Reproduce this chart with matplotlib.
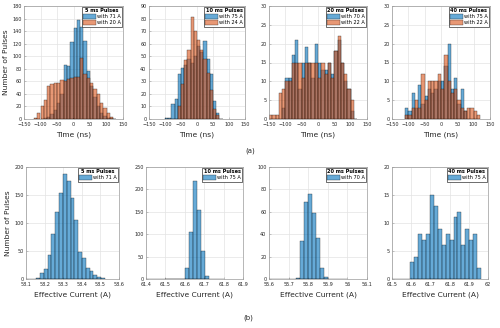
import numpy as np
import matplotlib
matplotlib.use("Agg")
import matplotlib.pyplot as plt

# ---------------- data ----------------
pulse_labels = ["5 ms Pulses", "10 ms Pulses", "20 ms Pulses", "40 ms Pulses"]

# top row: time histograms (10 ns bins), bins start at given edge
time_bin_width = 10
time_start_5 = -120
blue_5 = [0, 0, 0, 1, 3, 8, 15, 25, 40, 86, 84, 123, 145, 157, 147, 124, 76, 52, 35, 20, 10, 5, 2, 1, 0]
orange_5 = [2, 10, 20, 30, 53, 56, 58, 57, 62, 60, 63, 66, 67, 67, 97, 72, 65, 57, 48, 40, 25, 18, 10, 3, 0]
legend_top_5 = ["with 71 A", "with 20 A"]

time_start_10 = -100
blue_10 = [1, 1, 12, 16, 36, 41, 43, 48, 45, 50, 58, 53, 62, 48, 36, 14, 5, 0]
orange_10 = [0, 0, 0, 0, 10, 28, 47, 55, 81, 70, 63, 55, 48, 37, 23, 8, 3, 0]
legend_top_10 = ["with 75 A", "with 24 A"]

time_start_20 = -150
blue_20 = [0, 0, 0, 0, 3, 11, 11, 17, 21, 8, 15, 19, 15, 11, 20, 15, 13, 13, 15, 12, 18, 21, 15, 10, 8, 2, 0]
orange_20 = [1, 1, 1, 7, 8, 10, 10, 15, 15, 15, 11, 15, 15, 15, 15, 11, 15, 12, 15, 11, 18, 22, 15, 12, 8, 5, 0]
legend_top_20 = ["with 70 A", "with 22 A"]

time_start_40 = -110
blue_40 = [3, 2, 7, 3, 9, 4, 6, 8, 7, 8, 10, 10, 14, 20, 8, 11, 4, 8, 2, 0, 0, 0, 0]
orange_40 = [1, 1, 3, 5, 3, 12, 5, 10, 10, 10, 12, 8, 17, 10, 7, 8, 5, 3, 2, 3, 3, 2, 1]
legend_top_40 = ["with 75 A", "with 22 A"]

# bottom row: effective current histograms
cur_bin_width = 0.0205
cur_start_5 = 58.155
cur_5 = [1, 10, 18, 42, 80, 120, 153, 187, 175, 145, 105, 48, 37, 20, 15, 8, 3, 1]
cur_start_10 = 61.500
cur_10 = [0, 1, 0, 0, 1, 25, 104, 218, 155, 62, 6]
cur_start_20 = 55.738
cur_20 = [1, 34, 69, 76, 59, 37, 10, 2]
cur_start_40 = 61.595
cur_40 = [3, 4, 8, 7, 8, 15, 13, 9, 6, 8, 7, 11, 12, 6, 9, 7, 8, 2]
legend_bottom = ["with 71 A", "with 75 A", "with 70 A", "with 75 A"]

top_ylims = [(0, 180, 20), (0, 90, 10), (0, 30, 5), (0, 30, 5)]
bottom_xlims = [(58.1, 58.6), (61.4, 61.9), (55.6, 56.1), (61.5, 62.0)]
bottom_xticks = [
    ["58.1", "58.2", "58.3", "58.4", "58.5", "58.6"],
    ["61.4", "61.5", "61.6", "61.7", "61.8", "61.9"],
    ["55.6", "55.7", "55.8", "55.9", "56", "56.1"],
    ["61.5", "61.6", "61.7", "61.8", "61.9", "62"],
]
bottom_ylims = [(0, 200, 50), (0, 250, 50), (0, 100, 20), (0, 20, 5)]

# ---------------- style ----------------
BLUE = "#0072BD"
ORANGE = "#D95319"
FS_TICK = 3.5
FS_LABEL = 5.4
FS_LEG = 3.6

fig = plt.figure(figsize=(5.0, 3.28), dpi=100)
W, H = 500.0, 328.0

def add_ax(x0, x1, y0, y1):
    return fig.add_axes([x0 / W, 1 - y1 / H, (x1 - x0) / W, (y1 - y0) / H])

def style(ax):
    ax.grid(True, color="#e3e3e3", linewidth=0.5)
    ax.set_axisbelow(True)
    for s in ax.spines.values():
        s.set_color("#9a9a9a")
        s.set_linewidth(0.5)
    ax.tick_params(direction="in", length=1.5, width=0.4, labelsize=FS_TICK,
                   colors="#9a9a9a", labelcolor="#262626", pad=1.8)

def draw_hist(ax, start, width, vals, color):
    vals = np.asarray(vals, dtype=float)
    lefts = start + width * np.arange(len(vals))
    ax.bar(lefts, vals, width=width, align="edge", color=color, alpha=0.6,
           edgecolor="black", linewidth=0.35)

def legend(ax, title):
    leg = ax.legend(loc="upper right", fontsize=FS_LEG, title=title,
                    title_fontproperties={"weight": "bold", "size": FS_LEG},
                    fancybox=False, edgecolor="#333333", framealpha=1,
                    borderpad=0.3, handlelength=2.6, handleheight=1.2,
                    handletextpad=0.15, labelspacing=0.15, borderaxespad=0.15)
    leg.get_frame().set_linewidth(0.5)

top_data = [
    (time_start_5, blue_5, orange_5, legend_top_5),
    (time_start_10, blue_10, orange_10, legend_top_10),
    (time_start_20, blue_20, orange_20, legend_top_20),
    (time_start_40, blue_40, orange_40, legend_top_40),
]
top_x = [(24, 123), (149, 245), (269, 367), (392, 490)]
for i, (start, b, o, labs) in enumerate(top_data):
    ax = add_ax(top_x[i][0], top_x[i][1], 6, 119)
    style(ax)
    draw_hist(ax, start, time_bin_width, b, BLUE)
    draw_hist(ax, start, time_bin_width, o, ORANGE)
    ax.set_xlim(-150, 150)
    ax.set_xticks(np.arange(-150, 151, 50))
    lo, hi, st = top_ylims[i]
    ax.set_ylim(lo, hi)
    ax.set_yticks(np.arange(lo, hi + 1, st))
    ax.set_xlabel("Time (ns)", fontsize=FS_LABEL, labelpad=3.5, color="#262626")
    if i == 0:
        ax.set_ylabel("Number of Pulses", fontsize=FS_LABEL, labelpad=2, color="#262626")
    ax.bar([0], [0], color=BLUE, alpha=0.6, edgecolor="black", linewidth=0.35, label=labs[0])
    ax.bar([0], [0], color=ORANGE, alpha=0.6, edgecolor="black", linewidth=0.35, label=labs[1])
    legend(ax, pulse_labels[i])

bottom_data = [
    (cur_start_5, cur_5),
    (cur_start_10, cur_10),
    (cur_start_20, cur_20),
    (cur_start_40, cur_40),
]
bot_x = [(26, 119), (146, 243), (269, 367), (392, 488)]
for i, (start, vals) in enumerate(bottom_data):
    ax = add_ax(bot_x[i][0], bot_x[i][1], 167, 279)
    style(ax)
    draw_hist(ax, start, cur_bin_width, vals, BLUE)
    x0, x1 = bottom_xlims[i]
    ax.set_xlim(x0, x1)
    ax.set_xticks(np.linspace(x0, x1, 6))
    ax.set_xticklabels(bottom_xticks[i])
    lo, hi, st = bottom_ylims[i]
    ax.set_ylim(lo, hi)
    ax.set_yticks(np.arange(lo, hi + 1, st))
    ax.set_xlabel("Effective Current (A)", fontsize=FS_LABEL, labelpad=3.5, color="#262626")
    if i == 0:
        ax.set_ylabel("Number of Pulses", fontsize=FS_LABEL, labelpad=2, color="#262626")
    ax.bar([x0], [0], color=BLUE, alpha=0.6, edgecolor="black", linewidth=0.35, label=legend_bottom[i])
    legend(ax, pulse_labels[i])

fig.text(0.5, 1 - 151 / H, "(a)", ha="center", va="center", fontsize=5.0, color="#262626")
fig.text(0.497, 1 - 318 / H, "(b)", ha="center", va="center", fontsize=5.0, color="#262626")

fig.savefig("out.png", dpi=100)
